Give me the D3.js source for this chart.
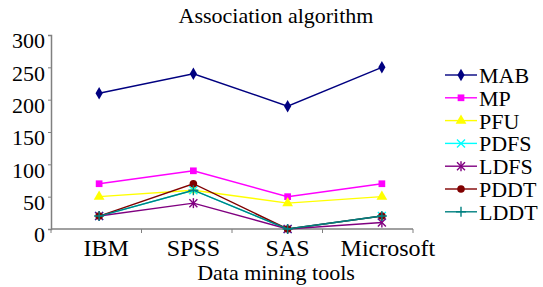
<!DOCTYPE html>
<html>
<head>
<meta charset="utf-8">
<script src="https://cdn.jsdelivr.net/npm/d3@7"></script>
<style>
  body { margin: 0; background: #fff; }
</style>
</head>
<body>
<div id="chart"></div>
<script>
// data
const tools = ["IBM", "SPSS", "SAS", "Microsoft"];
const seriesNames = ["MAB", "MP", "PFU", "PDFS", "LDFS", "PDDT", "LDDT"];
const colours = ["#000080", "#ff00ff", "#ffff00", "#00ffff", "#800080", "#800000", "#008080"];
const markers = ["diamond", "square", "triangle", "x", "star", "circle", "plus"];
const MAB  = [210, 240, 190, 250];
const MP   = [70, 90, 50, 70];
const PFU  = [50, 60, 40, 50];
const PDFS = [20, 60, 0, 20];
const LDFS = [20, 40, 0, 10];
const PDDT = [20, 70, 0, 20];
const LDDT = [20, 60, 0, 20];
const yTicks = [0, 50, 100, 150, 200, 250, 300];

const values = [MAB, MP, PFU, PDFS, LDFS, PDDT, LDDT];

const width = 543, height = 287;
const margin = {top: 35, left: 51, bottom: 229, axisRight: 413};
const serif = "Liberation Serif";
const axisColour = "#808080";

const svg = d3.select("#chart").append("svg")
    .attr("width", width)
    .attr("height", height)
    .attr("font-family", serif);

const x = d3.scalePoint()
    .domain(tools)
    .range([52, 429])
    .padding(0.5);

const xTick = d3.scaleLinear()
    .domain([0, tools.length])
    .range([margin.left, margin.axisRight]);

const y = d3.scaleLinear()
    .domain([0, 300])
    .range([margin.bottom, margin.top]);

// title
svg.append("text")
    .attr("x", 276).attr("y", 23)
    .attr("text-anchor", "middle")
    .attr("font-family", serif)
    .attr("font-size", 22)
    .text("Association algorithm");

// y axis
const yAxis = d3.axisLeft(y).tickValues(yTicks).tickSize(3).tickPadding(3);
const gy = svg.append("g")
    .attr("transform", `translate(${margin.left},0)`)
    .call(yAxis);
gy.attr("font-family", serif).attr("font-size", 22);
gy.select(".domain").attr("stroke", axisColour).attr("stroke-width", 1.5);
gy.selectAll(".tick line").attr("stroke", axisColour);
gy.selectAll(".tick text")
    .attr("fill", "#000")
    .attr("dy", "0.58em");

// x axis
const gx = svg.append("g");
gx.append("line")
    .attr("x1", xTick(0)).attr("x2", xTick(tools.length))
    .attr("y1", y(0)).attr("y2", y(0))
    .attr("stroke", axisColour).attr("stroke-width", 1.5);
gx.selectAll("line.tick")
    .data(d3.range(tools.length + 1))
    .enter().append("line")
    .attr("class", "tick")
    .attr("x1", d => xTick(d)).attr("x2", d => xTick(d))
    .attr("y1", y(0)).attr("y2", y(0) + 4)
    .attr("stroke", axisColour);
gx.selectAll("text")
    .data(tools)
    .enter().append("text")
    .attr("x", d => x(d) + (d === "Microsoft" ? 6 : d === "IBM" ? 7 : 0))
    .attr("y", 256)
    .attr("text-anchor", "middle")
    .attr("font-family", serif)
    .attr("font-size", 24)
    .text(d => d);

svg.append("text")
    .attr("x", 276).attr("y", 280)
    .attr("text-anchor", "middle")
    .attr("font-family", serif)
    .attr("font-size", 22)
    .text("Data mining tools");

// marker drawing
function drawMarker(g, type, colour, cx, cy) {
  if (type === "x" || type === "star" || type === "plus") {
    const s = 4;
    if (type !== "plus") {
      g.append("path").attr("d", `M${cx-s},${cy-s}L${cx+s},${cy+s}M${cx-s},${cy+s}L${cx+s},${cy-s}`)
        .attr("stroke", colour).attr("stroke-width", 1.4);
    }
    if (type !== "x") {
      g.append("path").attr("d", `M${cx},${cy-s-1}L${cx},${cy+s+1}` + (type === "plus" ? `M${cx-s-1},${cy}L${cx+s+1},${cy}` : ""))
        .attr("stroke", colour).attr("stroke-width", 1.4);
    }
    return;
  }
  const sym = {diamond: d3.symbolDiamond, square: d3.symbolSquare, triangle: d3.symbolTriangle, circle: d3.symbolCircle}[type];
  const size = {diamond: 45, square: 45, triangle: 50, circle: 45}[type];
  g.append("path")
    .attr("d", d3.symbol(sym, size)())
    .attr("transform", `translate(${cx},${cy})`)
    .attr("fill", colour);
}

const line = d3.line()
    .x((d, i) => x(tools[i]))
    .y(d => y(d));

// series
seriesNames.forEach((name, k) => {
  const g = svg.append("g");
  g.append("path")
    .datum(values[k])
    .attr("d", line)
    .attr("fill", "none")
    .attr("stroke", colours[k])
    .attr("stroke-width", 1.4);
  values[k].forEach((v, i) => drawMarker(g, markers[k], colours[k], x(tools[i]), y(v)));
});

// legend
const legend = svg.append("g");
seriesNames.forEach((name, k) => {
  const ly = 75 + k * 22.8;
  legend.append("line")
    .attr("x1", 445).attr("x2", 477)
    .attr("y1", ly).attr("y2", ly)
    .attr("stroke", colours[k]).attr("stroke-width", 1.4);
  drawMarker(legend, markers[k], colours[k], 461, ly);
  legend.append("text")
    .attr("x", 479).attr("y", ly + 8)
    .attr("font-family", serif)
    .attr("font-size", 22)
    .text(name);
});
</script>
</body>
</html>
